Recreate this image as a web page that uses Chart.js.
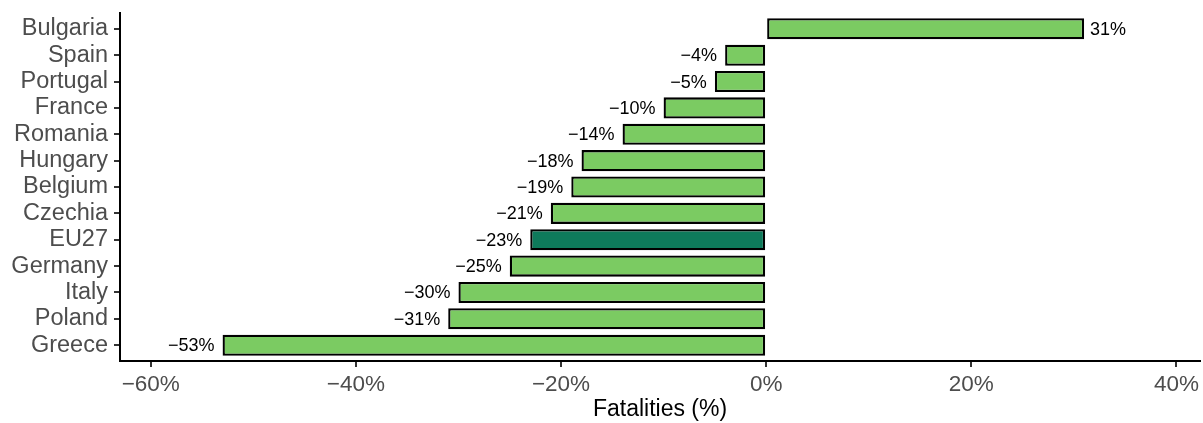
<!DOCTYPE html>
<html>
<head>
<meta charset="utf-8">
<script src="https://cdn.jsdelivr.net/npm/chart.js@4"></script>
<style>
  html, body { margin: 0; padding: 0; background: #fff; }
  #wrap { width: 1203px; height: 423px; position: relative; }
</style>
</head>
<body>
<div id="wrap"><canvas id="chart"></canvas></div>
<script>
const countries = ["Bulgaria", "Spain", "Portugal", "France", "Romania", "Hungary", "Belgium",
  "Czechia", "EU27", "Germany", "Italy", "Poland", "Greece"]
const change = [31, -4, -5, -10, -14, -18, -19, -21, -23, -25, -30, -31, -53]
const xTicks = [-60, -40, -20, 0, 20, 40]

const GREEN = "#7BCB62"
const EU_GREEN = "#0E7A5B"
const FONT = "'Liberation Sans', Arial, sans-serif"

const pct = (v) => (v < 0 ? "\u2212" + Math.abs(v) : String(v)) + "%"

// value labels at the end of each bar
const barLabels = {
  id: "barLabels",
  afterDatasetsDraw(chart) {
    const ctx = chart.ctx
    const meta = chart.getDatasetMeta(0)
    ctx.save()
    ctx.font = "18px " + FONT
    ctx.fillStyle = "#000"
    ctx.textBaseline = "middle"
    meta.data.forEach((bar, i) => {
      const v = change[i]
      if (v < 0) {
        ctx.textAlign = "right"
        ctx.fillText(pct(v), bar.x - 8, bar.y + 1)
      } else {
        ctx.textAlign = "left"
        ctx.fillText(pct(v), bar.x + 6, bar.y + 1)
      }
    })
    ctx.restore()
  }
}

new Chart(document.getElementById("chart"), {
  type: "bar",
  data: {
    datasets: [{
      data: change.map((v, i) => ({ x: v, y: i })),
      backgroundColor: countries.map(c => c === "EU27" ? EU_GREEN : GREEN),
      borderColor: "#000",
      borderWidth: 2.3,
      borderSkipped: false,
      barPercentage: 1,
      categoryPercentage: 0.8
    }]
  },
  options: {
    indexAxis: "y",
    responsive: true,
    maintainAspectRatio: false,
    animation: false,
    layout: { padding: { top: 13, right: 3, left: 0, bottom: 0 } },
    plugins: {
      legend: { display: false },
      tooltip: { enabled: false }
    },
    scales: {
      x: {
        type: "linear",
        min: -63,
        max: 42.3,
        afterBuildTicks: (axis) => { axis.ticks = xTicks.map(v => ({ value: v })) },
        afterFit: (axis) => {
          axis.height = 62
          axis.paddingLeft = 0
          axis.paddingRight = 0
        },
        grid: { drawOnChartArea: false, drawTicks: true, tickLength: 6, tickColor: "#333", lineWidth: 2 },
        border: { display: true, color: "#000", width: 2 },
        ticks: {
          padding: 4,
          color: "#4D4D4D",
          font: { family: FONT, size: 22.5 },
          callback: (v) => pct(v)
        },
        title: {
          display: true,
          text: "Fatalities (%)",
          color: "#000",
          font: { family: FONT, size: 23 },
          padding: { top: 0, bottom: 0 }
        }
      },
      y: {
        type: "linear",
        reverse: true,
        offset: false,
        min: -0.6,
        max: 12.6,
        afterBuildTicks: (axis) => { axis.ticks = countries.map((_, i) => ({ value: i })) },
        afterFit: (axis) => {
          axis.width = 120
          axis.paddingTop = 0
          axis.paddingBottom = 0
        },
        grid: { offset: false, drawOnChartArea: false, drawTicks: true, tickLength: 6, tickColor: "#333", lineWidth: 2 },
        border: { display: true, color: "#000", width: 2 },
        ticks: {
          padding: 6,
          color: "#4D4D4D",
          font: { family: FONT, size: 23.5 },
          autoSkip: false,
          callback: (v) => countries[v]
        }
      }
    }
  },
  plugins: [barLabels]
})
</script>
</body>
</html>
